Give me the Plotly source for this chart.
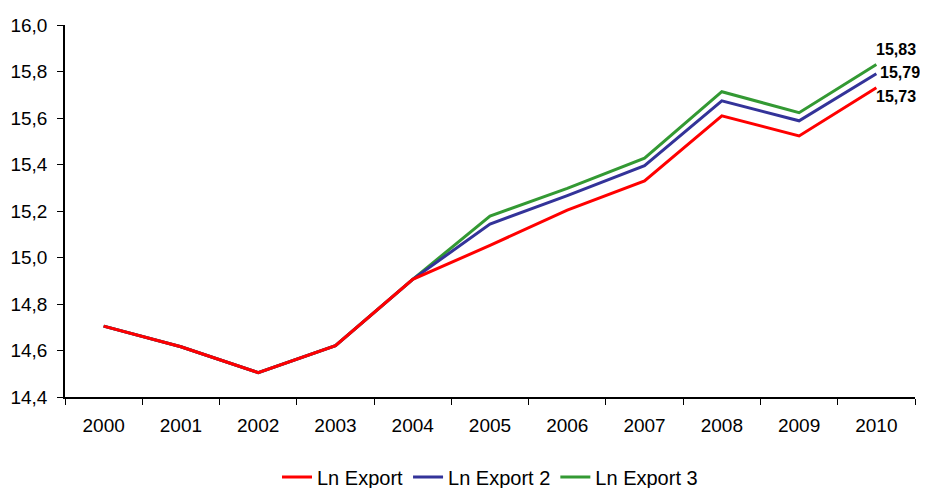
import plotly.graph_objects as go

years = ["2000", "2001", "2002", "2003", "2004", "2005", "2006", "2007", "2008", "2009", "2010"]
ln_export = [14.705, 14.616, 14.505, 14.621, 14.906, 15.052, 15.204, 15.329, 15.609, 15.523, 15.73]
ln_export2 = [14.705, 14.616, 14.505, 14.621, 14.906, 15.144, 15.266, 15.395, 15.674, 15.588, 15.79]
ln_export3 = [14.705, 14.616, 14.505, 14.621, 14.906, 15.178, 15.297, 15.427, 15.713, 15.623, 15.83]

# (name, values, colour, legend rank, label x-shift, label y-shift)
series = [
    ("Ln Export 3", ln_export3, "#339933", 3, -2, 15),
    ("Ln Export 2", ln_export2, "#333399", 2, 2, 1),
    ("Ln Export", ln_export, "#FF0000", 1, -2, -9),
]

FONT = "Liberation Sans, Arial, sans-serif"
W, H = 928, 488
OFF = 8  # the page body adds an 8px offset; place elements 8px up/left to compensate

fig = go.Figure()
for name, vals, color, rank, dx, dy in series:
    fig.add_trace(go.Scatter(
        x=years, y=vals, name=name, mode="lines",
        line=dict(color=color, width=3),
        legendrank=rank,
    ))
annotations = []
for name, vals, color, rank, dx, dy in series:
    annotations.append(dict(
        xref="x", yref="y", x=len(vals) - 1, y=vals[-1],
        text="<b>" + f"{vals[-1]:.2f}".replace(".", ",") + "</b>",
        showarrow=False, xanchor="left", yanchor="middle", xshift=dx, yshift=dy,
        font=dict(family=FONT, size=16, color="black"),
    ))

fig.update_layout(
    width=W, height=H,
    margin=dict(l=0, r=0, t=0, b=0, autoexpand=False),
    paper_bgcolor="white", plot_bgcolor="white",
    separators=", ",
    font=dict(family=FONT, size=19, color="black"),
    showlegend=True,
    annotations=annotations,
    legend=dict(orientation="h", x=(490 - OFF) / W, xanchor="center",
                y=(H - (477 - OFF)) / H, yanchor="middle",
                font=dict(size=20)),
    xaxis=dict(type="category", range=[-0.5, 10.5], tickson="boundaries",
               domain=[(65 - OFF) / W, (915 - OFF) / W], automargin=False,
               ticks="outside", ticklen=6, tickcolor="black", showline=True,
               linecolor="black", linewidth=1.5, showgrid=False, zeroline=False,
               tickfont=dict(size=19), ticklabelstandoff=10),
    yaxis=dict(range=[14.4, 16.0], dtick=0.2, tick0=14.4, tickformat=".1f",
               domain=[(H - (397 - OFF)) / H, (H - (25 - OFF)) / H], automargin=False,
               ticks="outside", ticklen=6, tickcolor="black", showline=True,
               linecolor="black", linewidth=1.5, showgrid=False, zeroline=False,
               tickfont=dict(size=19), ticklabelstandoff=6),
)

fig.write_html("out.html")
